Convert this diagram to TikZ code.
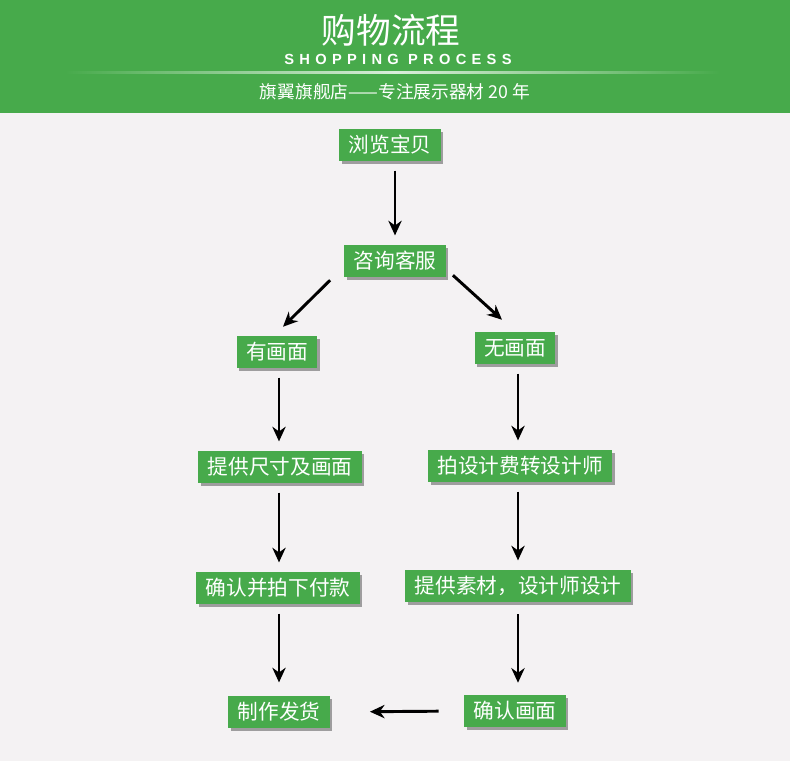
\documentclass[tikz,border=0pt]{standalone}
\usepackage{fontspec}
\newfontfamily\cjk{Noto Sans CJK SC}
\newfontfamily\latn{Liberation Sans}[LetterSpace=36]
\usetikzlibrary{arrows.meta,shadows,calc}
\definecolor{lg}{HTML}{47AA4B}
\definecolor{bg}{HTML}{F4F2F3}
\tikzset{
    stage/.style =  {rectangle,
                    fill=lg,
                    text=white,
                    font=\cjk\fontsize{15.5}{18}\selectfont,
                    inner xsep=7pt,
                    inner ysep=3pt,
                    minimum height=24pt,
                    drop shadow={shadow xshift=2pt,
                                 shadow yshift=-2pt,
                                 fill=black,
                                 opacity=0.35}},
    flow/.style =   {-{Stealth[length=11pt,width=10pt]},
                    line width=2.2pt},
    -,
    shorten >= 7pt,
    shorten <= 7pt}

\begin{document}
\begin{tikzpicture}[x=0.75pt,y=-0.75pt]
    % page and banner
    \fill[bg] (0,0) rectangle (790,761);
    \fill[lg] (0,0) rectangle (790,113);
    \shade[left color=lg, right color=white!80!lg] (65,71.5) rectangle (395,73.5);
    \shade[left color=white!80!lg, right color=lg] (395,71.5) rectangle (720,73.5);
    \node[text=white, font=\cjk\fontsize{26}{30}\selectfont] (title) at (391,30) {购物流程};
    \node[text=white, font=\latn\bfseries\fontsize{11}{13}\selectfont] (sub) at (398,59) {SHOPPING PROCESS};
    \node[text=white, font=\cjk\fontsize{13.3}{15}\selectfont] (shop) at (395,92) {旗翼旗舰店——专注展示器材 20 年};

    % steps
    \node[stage] (browse)  at (390,145) {浏览宝贝};
    \node[stage] (ask)     at (395,261) {咨询客服};
    \node[stage] (have)    at (277,352) {有画面};
    \node[stage] (none)    at (515,348) {无画面};
    \node[stage] (size)    at (280,467) {提供尺寸及画面};
    \node[stage] (fee)     at (520,466) {拍设计费转设计师};
    \node[stage] (pay)     at (278,588) {确认并拍下付款};
    \node[stage] (design)  at (518,586) {提供素材，设计师设计};
    \node[stage] (ship)    at (279,712) {制作发货};
    \node[stage] (confirm) at (515,711) {确认画面};

    \path [flow]    (browse.south -| ask) edge (ask.north)
                    ($(ask.south west)+(-14,3)$) edge [shorten <=0pt, shorten >=0pt] ($(have.north)+(6,-9)$)
                    ($(ask.south east)+(7,-2)$) edge [shorten <=0pt, shorten >=0pt] ($(none.north)+(-13,-12)$)
                    (have.south -| ship) edge (size.north -| ship)
                    (none.south -| design) edge (fee.north -| design)
                    (size.south -| ship) edge (pay.north -| ship)
                    (fee.south -| design) edge (design.north)
                    (pay.south -| ship) edge [shorten >=10pt] (ship.north)
                    (design.south -| design) edge [shorten <=9pt, shorten >=9pt] (confirm.north -| design)
                    (confirm.west) edge [shorten <=19pt, shorten >=30pt] (ship.east);
\end{tikzpicture}
\end{document}
